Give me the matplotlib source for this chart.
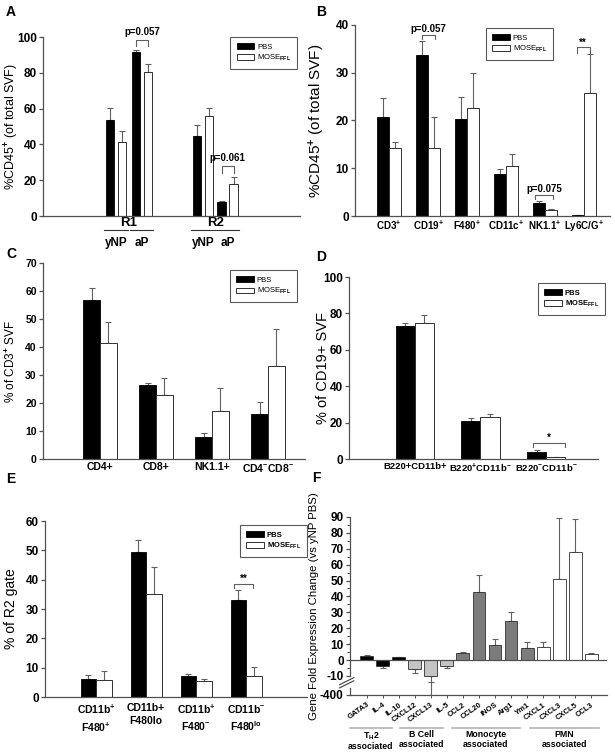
import numpy as np
import matplotlib
matplotlib.use('Agg')
import matplotlib.pyplot as plt

plt.rcParams['font.family'] = ['Liberation Sans', 'DejaVu Sans']
plt.rcParams['font.weight'] = 'bold'
plt.rcParams['mathtext.fontset'] = 'custom'
plt.rcParams['mathtext.rm'] = 'Liberation Sans:bold'
plt.rcParams['mathtext.bf'] = 'Liberation Sans:bold'
plt.rcParams['mathtext.it'] = 'Liberation Sans:bold:italic'
plt.rcParams['mathtext.default'] = 'rm'

AX = '#505050'
ERR = '#606060'
MOSE = 'MOSE$_{\\mathrm{FFL}}$'

# ---- data ----
# A: R1 yNP, R1 aP, R2 yNP, R2 aP
a_regions = ['R1', 'R2']
a_sub = ['yNP', 'aP']
a_pbs = [53.5, 91.6, 44.6, 8.0]
a_pbs_sem = [7.1, 0.9, 6.5, 0.5]
a_mose = [41.4, 80.5, 55.8, 17.7]
a_mose_sem = [6.0, 4.6, 4.8, 4.2]

b_cats = ['CD3$^{+}$', 'CD19$^{+}$', 'F480$^{+}$', 'CD11c$^{+}$', 'NK1.1$^{+}$', 'Ly6C/G$^{+}$']
b_pbs = [20.8, 33.8, 20.4, 8.9, 2.65, 0.2]
b_pbs_sem = [4.0, 2.8, 4.6, 0.9, 0.45, 0.05]
b_mose = [14.2, 14.2, 22.7, 10.5, 1.25, 25.7]
b_mose_sem = [1.2, 6.6, 7.2, 2.4, 0.25, 8.3]

c_cats = ['CD4+', 'CD8+', 'NK1.1+', 'CD4$^{-}$CD8$^{-}$']
c_pbs = [56.9, 26.4, 7.75, 16.0]
c_pbs_sem = [4.2, 0.7, 1.45, 4.2]
c_mose = [41.4, 23.0, 17.3, 33.4]
c_mose_sem = [7.5, 5.9, 7.9, 13.0]

d_cats = ['B220+CD11b+', 'B220$^{+}$CD11b$^{-}$', 'B220$^{-}$CD11b$^{-}$']
d_pbs = [72.9, 20.7, 3.8]
d_pbs_sem = [1.9, 1.8, 0.95]
d_mose = [75.0, 22.9, 0.9]
d_mose_sem = [4.3, 2.1, 0.4]

e_cats = ['CD11b$^{+}$\nF480$^{+}$', 'CD11b+\nF480lo', 'CD11b$^{+}$\nF480$^{-}$', 'CD11b$^{-}$\nF480$^{lo}$']
e_pbs = [6.1, 49.5, 7.0, 33.1]
e_pbs_sem = [1.5, 4.2, 0.8, 3.4]
e_mose = [5.8, 35.1, 5.3, 7.25]
e_mose_sem = [2.9, 9.1, 1.0, 2.95]

f_genes = ['GATA3', 'IL-4', 'IL-10', 'CXCL12', 'CXCL13', 'IL-5', 'CCL2', 'CCL20',
           'iNOS', 'Arg1', 'Ym1', 'CXCL1', 'CXCL3', 'CXCL5', 'CCL3']
f_fold = [2.7, -4.0, 1.7, -5.7, -10.3, -4.0, 4.6, 42.6, 9.4, 24.5, 7.8, 8.2, 51.0, 67.8, 3.8]
f_sem = [0.7, 1.0, 0.4, 2.5, 125.0, 1.0, 0.4, 11.1, 3.8, 5.7, 3.3, 3.1, 38.4, 20.9, 0.6]
f_group = ['TH2'] * 3 + ['B'] * 3 + ['Mono'] * 5 + ['PMN'] * 4
f_group_names = ['T$_{H}$2\nassociated', 'B Cell\nassociated', 'Monocyte\nassociated', 'PMN\nassociated']
f_colors = {'TH2': 'black', 'B': '#c4c4c4', 'Mono': '#7c7c7c', 'PMN': 'white'}

fig = plt.figure(figsize=(6.15, 7.55), dpi=100)


def style(ax, ylabsize=8.5):
    for s in ['top', 'right']:
        ax.spines[s].set_visible(False)
    for s in ['left', 'bottom']:
        ax.spines[s].set_color(AX)
        ax.spines[s].set_linewidth(0.9)
    ax.tick_params(axis='y', direction='out', length=3, width=0.9, color=AX, labelsize=ylabsize, pad=1.5)
    ax.tick_params(axis='x', length=0, labelsize=7, pad=2)


def ylab(ax, text, size, xpos):
    ax.set_ylabel(text, fontsize=size)
    ax.yaxis.set_label_coords(xpos, 0.5)


def pair_bars(ax, xc, pbs, pbs_sem, mose, mose_sem, w, off):
    xc = np.asarray(xc, dtype=float)
    ax.bar(xc - off, pbs, w, color='black', edgecolor='black', lw=0.6, label='PBS', zorder=2)
    ax.bar(xc + off, mose, w, color='white', edgecolor='#303030', lw=0.7, label=MOSE, zorder=2)
    kw = dict(fmt='none', ecolor=ERR, elinewidth=0.8, capsize=2.5, capthick=0.8, zorder=1)
    ax.errorbar(xc - off, pbs, yerr=[np.zeros(len(pbs)), pbs_sem], **kw)
    ax.errorbar(xc + off, mose, yerr=[np.zeros(len(mose)), mose_sem], **kw)


def legend(ax, anchor, weight):
    leg = ax.legend(loc='upper right', bbox_to_anchor=anchor, frameon=True, fancybox=False,
                    edgecolor='#303030', handlelength=2.3, handleheight=0.75, borderpad=0.8,
                    labelspacing=0.3, handletextpad=0.4, borderaxespad=0,
                    prop={'size': 5.5, 'weight': weight})
    leg.get_frame().set_linewidth(0.8)


def bracket(ax, x1, x2, y, h, txt, ty, fs=7):
    ax.plot([x1, x1, x2, x2], [y - h, y, y, y - h], color=ERR, lw=0.8, clip_on=False)
    ax.text((x1 + x2) / 2, ty, txt, ha='center', va='center', fontsize=fs, clip_on=False)


# ---- A ----
ax = fig.add_axes([0.0699, 0.7139, 0.418, 0.237])
style(ax)
centers = np.array([0, 2.1, 7.07, 9.07])
pair_bars(ax, centers, a_pbs, a_pbs_sem, a_mose, a_mose_sem, 0.69, 0.49)
ax.set_xlim(-5.93, 14.96)
ax.set_ylim(0, 100)
ax.set_yticks(np.arange(0, 101, 20))
ax.set_xticks([(centers[0] + centers[1]) / 2, (centers[2] + centers[3]) / 2])
ax.set_xticklabels(a_regions, fontsize=9.5)
ax.tick_params(axis='x', pad=0.5)
ylab(ax, '%CD45$^{+}$ (of total SVF)', 9, -0.086)
tr = ax.get_xaxis_transform()
for i, c in enumerate(centers):
    ax.plot([c - 0.95, c + 0.95], [-0.078, -0.078], transform=tr, color='#333333', lw=0.8, clip_on=False)
    ax.text(c, -0.152, a_sub[i % 2], transform=tr, ha='center', va='center', fontsize=8.5)
legend(ax, (0.99, 1.0), 'normal')
bracket(ax, 1.62, 2.58, 98.5, 3.7, 'p=0.057', 103)
bracket(ax, 8.58, 9.56, 28.1, 4.3, 'p=0.061', 32.5)

# ---- B ----
ax = fig.add_axes([0.5772, 0.7139, 0.4146, 0.253])
style(ax)
xb = np.arange(len(b_cats))
pair_bars(ax, xb, b_pbs, b_pbs_sem, b_mose, b_mose_sem, 0.3, 0.15)
ax.set_xlim(-0.87, 5.67)
ax.set_ylim(0, 40)
ax.set_yticks(np.arange(0, 41, 10))
ax.set_xticks(xb)
ax.set_xticklabels(b_cats, fontsize=7)
ylab(ax, '%CD45$^{+}$ (of total SVF)', 11, -0.11)
legend(ax, (0.776, 0.984), 'normal')
bracket(ax, 0.85, 1.17, 37.9, 0.9, 'p=0.057', 39.1)
bracket(ax, 3.76, 4.2, 4.4, 0.9, 'p=0.075', 5.6)
bracket(ax, 4.82, 5.15, 35.4, 1.3, '**', 36.3)

# ---- C ----
ax = fig.add_axes([0.0699, 0.392, 0.426, 0.2596])
style(ax, ylabsize=7.5)
xc = np.arange(len(c_cats))
pair_bars(ax, xc, c_pbs, c_pbs_sem, c_mose, c_mose_sem, 0.3, 0.15)
ax.set_xlim(-1.02, 3.66)
ax.set_ylim(0, 70)
ax.set_yticks(np.arange(0, 71, 10))
ax.set_xticks(xc)
ax.set_xticklabels(c_cats, fontsize=7.5)
ylab(ax, '% of CD3$^{+}$ SVF', 8.5, -0.095)
legend(ax, (0.969, 0.964), 'normal')

# ---- D ----
ax = fig.add_axes([0.5675, 0.392, 0.405, 0.241])
style(ax)
xd = np.arange(len(d_cats))
pair_bars(ax, xd, d_pbs, d_pbs_sem, d_mose, d_mose_sem, 0.29, 0.145)
ax.set_xlim(-1.0, 2.79)
ax.set_ylim(0, 100)
ax.set_yticks(np.arange(0, 101, 20))
ax.set_xticks(xd)
ax.set_xticklabels(d_cats, fontsize=6.8)
ylab(ax, '% of CD19+ SVF', 10.5, -0.076)
legend(ax, (1.028, 0.967), 'bold')
bracket(ax, 1.8, 2.28, 8.96, 2.2, '*', 11.5)

# ---- E ----
ax = fig.add_axes([0.0732, 0.0768, 0.426, 0.2331])
style(ax)
xe = np.arange(len(e_cats))
pair_bars(ax, xe, e_pbs, e_pbs_sem, e_mose, e_mose_sem, 0.31, 0.155)
ax.set_xlim(-1.02, 4.22)
ax.set_ylim(0, 60)
ax.set_yticks(np.arange(0, 61, 10))
ax.set_xticks(xe)
ax.set_xticklabels(e_cats, fontsize=7.5, linespacing=1.4)
ax.tick_params(axis='x', pad=4)
ylab(ax, '% of R2 gate', 10, -0.103)
legend(ax, (1.0, 0.977), 'bold')
bracket(ax, 2.76, 3.14, 38.5, 1.5, '**', 40.2)

# ---- F ----
K = 12.0 / 390.0


def fwd(v):
    v = np.asarray(v, dtype=float)
    return np.where(v >= -10, v, -10 + (v + 10) * K)


def inv(d):
    d = np.asarray(d, dtype=float)
    return np.where(d >= -10, d, -10 + (d + 10) / K)


ax = fig.add_axes([0.569, 0.0795, 0.418, 0.2358])
ax.set_yscale('function', functions=(fwd, inv))
style(ax)
xf = np.arange(len(f_genes))
fold = np.array(f_fold)
sem = np.array(f_sem)
cols = [f_colors[g] for g in f_group]
ax.bar(xf, fold, 0.8, color=cols, edgecolor='#303030', lw=0.6, zorder=2)
up = np.where(fold > 0, sem, 0)
down = np.where(fold < 0, sem, 0)
ax.errorbar(xf, fold, yerr=[down, up], fmt='none', ecolor=ERR, elinewidth=0.8,
            capsize=2.5, capthick=0.8, zorder=1)
# CXCL13 whisker runs past the break to the axis floor
i13 = f_genes.index('CXCL13')
ax.plot([xf[i13], xf[i13]], [fold[i13] - sem[i13], -400], color=ERR, lw=0.8, zorder=1)
ax.axhline(0, color=AX, lw=0.9, zorder=3)
ax.set_xlim(-1.04, 14.98)
ax.set_ylim(-400, 90)
ax.set_yticks([-400, -10] + list(range(0, 91, 10)))
ax.set_yticklabels(['-400', '-10'] + [str(v) for v in range(0, 91, 10)])
ax.set_yticks([-5] + list(range(5, 90, 10)), minor=True)
ax.tick_params(axis='y', which='minor', length=2, width=0.7, color=AX)
ax.set_xticks(xf)
ax.set_xticklabels(f_genes, rotation=35, ha='right', rotation_mode='anchor', fontsize=5.5)
ax.tick_params(axis='x', length=2.5, width=0.7, color=AX, pad=2)
ax.spines['left'].set_bounds(-10, 90)
ytr = ax.get_yaxis_transform()
ax.plot([0, 0], [inv(-17.5), -400], transform=ytr, color=AX, lw=0.9, clip_on=False)
for d0 in (-13.3, -15.3):
    ax.plot([-0.04, 0.015], [inv(d0 - 2.2), inv(d0 + 2.2)], transform=ytr, color=AX, lw=0.9, clip_on=False)
ylab(ax, 'Gene Fold Expression Change (vs yNP PBS)', 8.2, -0.12)
spans = [(-1.04, 1.58), (2.07, 4.76), (5.3, 9.56), (10.18, 14.5)]
tr = ax.get_xaxis_transform()
for (x1, x2), name in zip(spans, f_group_names):
    ax.plot([x1, x2], [-0.185, -0.185], transform=tr, color='#b4b4b4', lw=1.2, clip_on=False)
    ax.text((x1 + x2) / 2, -0.198, name, transform=tr, ha='center', va='top', fontsize=6.3,
            linespacing=1.05)

# ---- panel letters ----
for lab, x, y in [('A', 11, 12.5), ('B', 321, 12.5), ('C', 11, 254), ('D', 321, 257),
                  ('E', 11, 479), ('F', 316, 478)]:
    fig.text(x / 615, 1 - y / 755, lab, fontsize=10, fontweight='bold', ha='center', va='center')

fig.savefig('out.png', dpi=100)
